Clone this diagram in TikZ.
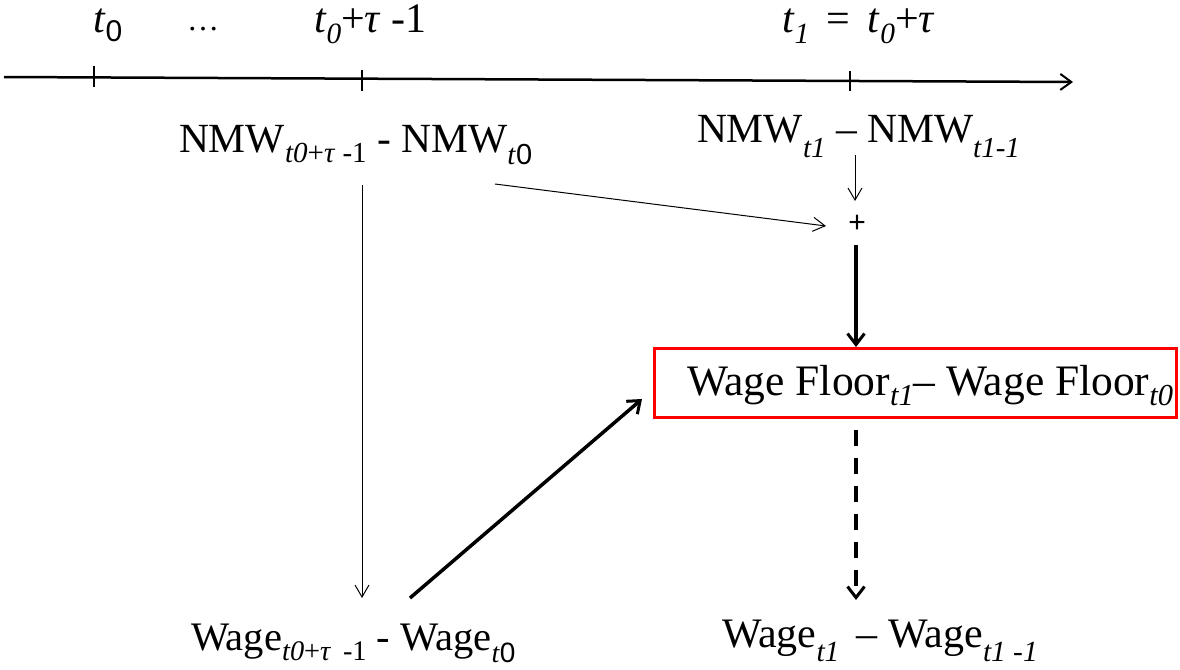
\documentclass[tikz,border=0pt]{standalone}
\usepackage{fontspec}
\setmainfont{Liberation Serif}
\newfontfamily\arialf{Liberation Sans}
\usetikzlibrary{arrows.meta,calc}
\newcommand\sbx[2][0.25em]{\raisebox{-#1}{\fontsize{0.7\fsz}{0.8\fsz}\selectfont #2}}
\newdimen\fsz
\newcommand\fs[1]{\fsz=#1pt\fontsize{\fsz}{1.2\fsz}\selectfont}
\begin{document}
\begin{tikzpicture}[x=1pt,y=-1pt,
  lbl/.style={inner sep=0pt,outer sep=0pt,anchor=base west},
  thinarr/.style={line width=1pt,-{Straight Barb[length=12pt,width=14pt,line width=1pt]}},
  thickarr/.style={line width=3.5pt,-{Straight Barb[length=11pt,width=17pt,line width=3pt]}},
  axisline/.style={line width=2.5pt,-{Straight Barb[length=11pt,width=16pt,line width=2pt]}},
  tickmark/.style={line width=2.5pt},
  redbox/.style={draw=red,line width=3pt,inner sep=0pt,minimum width=522pt,minimum height=69pt,anchor=north west}
]
\useasboundingbox (0,0) rectangle (1180,669);

% time axis
\coordinate (axL) at (4,77);
\coordinate (axR) at (1073,82);
\draw[axisline] (axL) -- (axR);
\coordinate (tk0) at (94,77.4);
\coordinate (tk1) at (362,78.6);
\coordinate (tk2) at (850,81);
\draw[tickmark] ($(tk0)+(0,-11)$) -- ($(tk0)+(0,10)$);
\draw[tickmark] ($(tk1)+(0,-9)$) -- ($(tk1)+(0,12)$);
\draw[tickmark] ($(tk2)+(0,-10)$) -- ($(tk2)+(0,10)$);

% top labels
\node[lbl] (lt0) at (93,33) {\fs{42}\textit{t}\raisebox{-0.2em}{\arialf\fontsize{30}{32}\selectfont 0}};
\node[lbl] (ldots) at (187,31) {\fs{32}\ldots};
\node[lbl] (lt1) at (314,33) {\fs{42}\textit{t}\sbx{\textit{0}}+\textit{τ} -1};
\node[lbl] (lt2) at (782,33) {\fs{42}\textit{t}\sbx{\textit{1}}\, = \,\textit{t}\sbx{\textit{0}}+\textit{τ}};

% NMW labels
\node[lbl] (nmwL) at (179,152) {\fs{41.5}NMW\sbx{\textit{t0}+\textit{τ} -1} - NMW\raisebox{-0.3em}{\fontsize{29}{30}\selectfont\textit{t}\arialf 0}};
\node[lbl] (nmwR) at (697,142) {\fs{41.5}NMW\sbx[0.38em]{\textit{t1}} – NMW\sbx[0.38em]{\textit{t1-1}}};

% plus
\node[inner sep=0pt,font=\arialf\fontsize{30}{32}\selectfont] (plus) at (857,224) {+};

% red box
\node[redbox] (box) at (653,347) {};
\node[lbl] (boxtxt) at (687,395) {\fs{43.5}Wage Floor\sbx{\textit{t1}}– Wage Floor\sbx{\textit{t0}}};

% wage labels
\node[lbl] (wageL) at (191,650) {\fs{40.5}Wage\sbx{\textit{t0}+\textit{τ}\, -1} - Wage\raisebox{-0.3em}{\fontsize{28}{30}\selectfont\textit{t}\arialf 0}};
\node[lbl] (wageR) at (722,647) {\fs{42}Wage\sbx[0.35em]{\textit{t1}}\, – Wage\sbx[0.35em]{\textit{t1 -1}}};

% connectors
\draw[thinarr] (855,155) coordinate (a1) -- (855,201) coordinate (a1e);
\draw[thinarr] (495,184) coordinate (a2) -- (826,226) coordinate (a2e);
\draw[thickarr] (856,245) coordinate (a3) -- (box.north -| a3);
\draw[thickarr,dash pattern=on 16pt off 12pt] ($(box.south -| a3)+(0,11)$) -- (856,600) coordinate (a4e);
\draw[thinarr] (362,185) coordinate (a5) -- (362,598) coordinate (a5e);
\draw[thickarr] (410,598) coordinate (a6) -- (642,399) coordinate (a6e);
\end{tikzpicture}
\end{document}
